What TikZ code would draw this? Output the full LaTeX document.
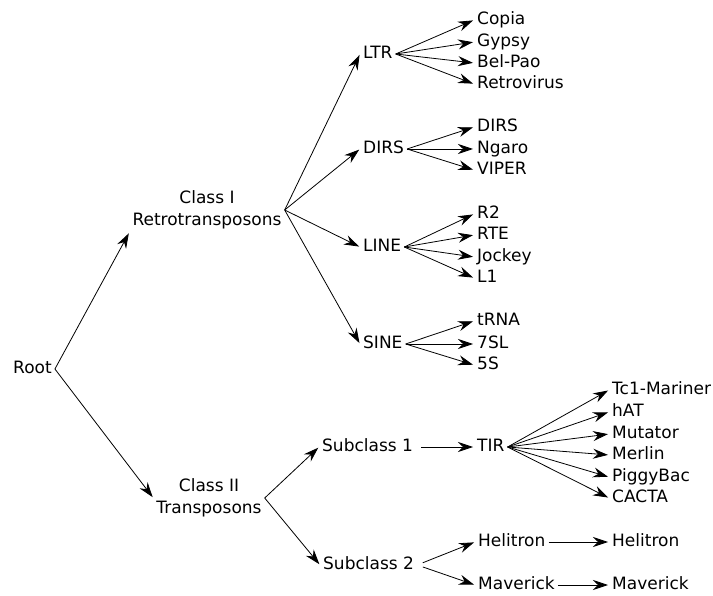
\documentclass[tikz,border=0pt]{standalone}
\usepackage{fontspec}
\setmainfont{DejaVu Sans}
\usetikzlibrary{arrows.meta}

\begin{document}
\begin{tikzpicture}[x=1pt, y=-1pt, >={Stealth[length=15pt,width=10pt,inset=5pt]},
    font=\fontsize{17}{22}\selectfont,
    lbl/.style={anchor=west, inner sep=3pt, text height=12pt, text depth=3.5pt},
    grp/.style={align=center, inner sep=3pt},
    link/.style={->, line width=0.8pt, shorten >=1pt}]
    \useasboundingbox (0,0) rectangle (713,596);

    % 根节点与两大类
    \node[lbl] (root) at (10,369) {Root};
    \node[grp] (ci) at (207,210) {Class I\\Retrotransposons};
    \node[grp] (cii) at (209,498) {Class II\\Transposons};
    \draw[link] (root.east) -- (ci.south west);
    \draw[link] (root.east) -- (cii.west);

    % Class I 的四个目
    \node[lbl] (ltr) at (360,54) {LTR};
    \node[lbl] (dirs) at (360,149) {DIRS};
    \node[lbl] (line) at (360,247) {LINE};
    \node[lbl] (sine) at (360,344) {SINE};
    \draw[link] (ci.east) -- (ltr.west);
    \draw[link] (ci.east) -- (dirs.west);
    \draw[link] (ci.east) -- (line.west);
    \draw[link] (ci.east) -- (sine.west);

    % LTR 超家族
    \node[lbl] (copia) at (474,20) {Copia};
    \node[lbl] (gypsy) at (474,42) {Gypsy};
    \node[lbl] (belpao) at (474,63) {Bel-Pao};
    \node[lbl] (retro) at (474,84) {Retrovirus};
    \draw[link] (ltr.east) -- (copia.west);
    \draw[link] (ltr.east) -- (gypsy.west);
    \draw[link] (ltr.east) -- (belpao.west);
    \draw[link] (ltr.east) -- (retro.west);

    % DIRS 超家族
    \node[lbl] (dirsl) at (474,127) {DIRS};
    \node[lbl] (ngaro) at (474,149) {Ngaro};
    \node[lbl] (viper) at (474,170) {VIPER};
    \draw[link] (dirs.east) -- (dirsl.west);
    \draw[link] (dirs.east) -- (ngaro.west);
    \draw[link] (dirs.east) -- (viper.west);

    % LINE 超家族
    \node[lbl] (rtwo) at (474,214) {R2};
    \node[lbl] (rte) at (474,235) {RTE};
    \node[lbl] (jockey) at (474,257) {Jockey};
    \node[lbl] (lone) at (474,278) {L1};
    \draw[link] (line.east) -- (rtwo.west);
    \draw[link] (line.east) -- (rte.west);
    \draw[link] (line.east) -- (jockey.west);
    \draw[link] (line.east) -- (lone.west);

    % SINE 超家族
    \node[lbl] (trna) at (474,321) {tRNA};
    \node[lbl] (sevensl) at (474,344) {7SL};
    \node[lbl] (fives) at (474,365) {5S};
    \draw[link] (sine.east) -- (trna.west);
    \draw[link] (sine.east) -- (sevensl.west);
    \draw[link] (sine.east) -- (fives.west);

    % Class II: Subclass 1 与 TIR
    \node[lbl] (subone) at (319,447) {Subclass 1};
    \node[lbl] (tir) at (474,447) {TIR};
    \draw[link] (cii.east) -- (subone.west);
    \draw[link, shorten <=5pt] (subone.east) -- (tir.west);

    % TIR 超家族
    \node[lbl] (tcone) at (609,390) {Tc1-Mariner};
    \node[lbl] (hat) at (609,412) {hAT};
    \node[lbl] (mutator) at (609,434) {Mutator};
    \node[lbl] (merlin) at (609,455) {Merlin};
    \node[lbl] (piggy) at (609,477) {PiggyBac};
    \node[lbl] (cacta) at (609,498) {CACTA};
    \draw[link] (tir.east) -- (tcone.west);
    \draw[link] (tir.east) -- (hat.west);
    \draw[link] (tir.east) -- (mutator.west);
    \draw[link] (tir.east) -- (merlin.west);
    \draw[link] (tir.east) -- (piggy.west);
    \draw[link] (tir.east) -- (cacta.west);

    % Class II: Subclass 2
    \node[lbl] (subtwo) at (320,565) {Subclass 2};
    \node[lbl] (heli) at (475,542) {Helitron};
    \node[lbl] (mav) at (475,585) {Maverick};
    \node[lbl] (helisf) at (609,542) {Helitron};
    \node[lbl] (mavsf) at (609,585) {Maverick};
    \draw[link] (cii.east) -- (subtwo.west);
    \draw[link, shorten <=6pt] (subtwo.east) -- (heli.west);
    \draw[link, shorten <=6pt] (subtwo.east) -- (mav.west);
    \draw[link] (heli.east) -- (helisf.west);
    \draw[link] (mav.east) -- (mavsf.west);
\end{tikzpicture}
\end{document}
